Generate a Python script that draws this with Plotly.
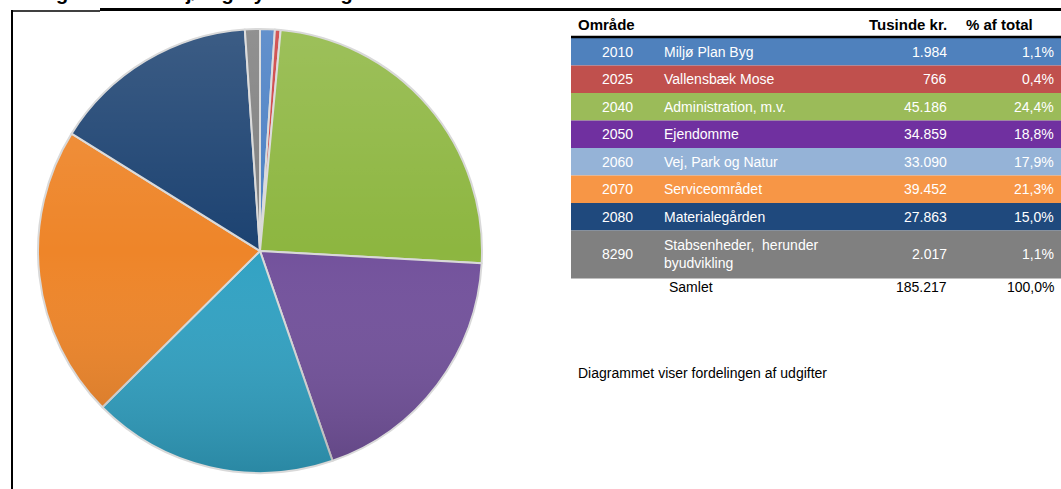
import base64
import plotly.graph_objects as go

W, H = 1061, 489

# data
codes = ["2010", "2025", "2040", "2050", "2060", "2070", "2080", "8290"]
names = ["Miljø Plan Byg", "Vallensbæk Mose", "Administration, m.v.", "Ejendomme",
         "Vej, Park og Natur", "Serviceområdet", "Materialegården",
         "Stabsenheder,  herunder<br>byudvikling"]
values = [1984, 766, 45186, 34859, 33090, 39452, 27863, 2017]
value_labels = ["1.984", "766", "45.186", "34.859", "33.090", "39.452", "27.863", "2.017"]
pct_labels = ["1,1%", "0,4%", "24,4%", "18,8%", "17,9%", "21,3%", "15,0%", "1,1%"]
total_label = "185.217"
total_pct = "100,0%"

pie_colors = ["#4a7fc4", "#cc3d3d", "#8db640", "#73529c", "#32a2c3",
              "#ee8529", "#1c4271", "#7f7f7f"]
row_colors = ["#4f81bd", "#c0504d", "#9bbb59", "#7030a0", "#95b3d7",
              "#f79646", "#1f497d", "#808080"]

FONT = "Arial, Liberation Sans, sans-serif"

# pie geometry (pixels)
CX, CY, R = 260, 251, 222


def px(x):
    return x / W


def py_(y):
    return 1 - y / H


fig = go.Figure()

fig.add_trace(go.Pie(
    values=values,
    labels=codes,
    sort=False,
    direction="clockwise",
    rotation=0,
    textinfo="none",
    marker=dict(colors=pie_colors, line=dict(color="#d9d9d9", width=2)),
    domain=dict(x=[px(CX - R), px(CX + R)], y=[py_(CY + R), py_(CY - R)]),
    showlegend=False,
))

# soft vertical shading over the pie (light top, darker bottom)
svg = ('<svg xmlns="http://www.w3.org/2000/svg" width="444" height="444">'
       '<defs><linearGradient id="g" x1="0" y1="0" x2="0" y2="1">'
       '<stop offset="0" stop-color="#ffffff" stop-opacity="0.14"/>'
       '<stop offset="0.5" stop-color="#ffffff" stop-opacity="0"/>'
       '<stop offset="1" stop-color="#000000" stop-opacity="0.16"/>'
       '</linearGradient></defs>'
       '<circle cx="222" cy="222" r="221" fill="url(#g)"/></svg>')
shade_src = "data:image/svg+xml;base64," + base64.b64encode(svg.encode()).decode()

shapes = []
annotations = []

# frame lines
shapes.append(dict(type="line", xref="paper", yref="paper", x0=px(12), x1=px(12),
                   y0=py_(10), y1=py_(H), line=dict(color="black", width=2)))
shapes.append(dict(type="line", xref="paper", yref="paper", x0=px(12), x1=px(100),
                   y0=py_(11), y1=py_(11), line=dict(color="black", width=1.5)))
shapes.append(dict(type="line", xref="paper", yref="paper", x0=px(100), x1=px(W),
                   y0=py_(9.5), y1=py_(9.5), line=dict(color="black", width=3)))

# cut-off title
annotations.append(dict(text="<b>Budget 2014 – Miljø og Byudvikling</b>", xref="paper", yref="paper",
                        x=px(15), y=py_(6), xanchor="left", yanchor="bottom", showarrow=False,
                        font=dict(family=FONT, size=20, color="black")))

# table header
hdr_y = 24
annotations.append(dict(text="<b>Område</b>", x=px(576), y=py_(hdr_y), xanchor="left"))
annotations.append(dict(text="<b>Tusinde kr.</b>", x=px(949), y=py_(hdr_y), xanchor="right"))
annotations.append(dict(text="<b>% af total</b>", x=px(964), y=py_(hdr_y), xanchor="left"))
shapes.append(dict(type="line", xref="paper", yref="paper", x0=px(571), x1=px(W),
                   y0=py_(37), y1=py_(37), line=dict(color="black", width=2.5)))

# rows
top = 38.0
row_h = 27.5
for i, code in enumerate(codes):
    h = row_h if i < len(codes) - 1 else 48
    y0, y1 = top, top + h
    shapes.append(dict(type="rect", xref="paper", yref="paper", x0=px(571), x1=px(W),
                       y0=py_(y1), y1=py_(y0), fillcolor=row_colors[i], line=dict(width=0),
                       layer="below"))
    yc = (y0 + y1) / 2
    for txt, x, anc in [(code, 617, "center"), (names[i], 662, "left"),
                        (value_labels[i], 949, "right"), (pct_labels[i], 1056, "right")]:
        annotations.append(dict(text=txt, x=px(x), y=py_(yc), xanchor=anc, align="left",
                                font=dict(family=FONT, size=14, color="white")))
    top = y1

# total row
tot_y = 287
annotations.append(dict(text="Samlet", x=px(667), y=py_(tot_y), xanchor="left"))
annotations.append(dict(text=total_label, x=px(949), y=py_(tot_y), xanchor="right"))
annotations.append(dict(text=total_pct, x=px(1056), y=py_(tot_y), xanchor="right"))

annotations.append(dict(text="Diagrammet viser fordelingen af udgifter", x=px(576), y=py_(373),
                        xanchor="left"))

for a in annotations:
    a.setdefault("xref", "paper")
    a.setdefault("yref", "paper")
    a.setdefault("yanchor", "middle")
    a.setdefault("showarrow", False)
    a.setdefault("font", dict(family=FONT, size=14, color="black"))

header_font = dict(family=FONT, size=15, color="black")
for a in annotations[1:4]:
    a["font"] = header_font

fig.update_layout(
    width=W, height=H,
    margin=dict(l=0, r=0, t=0, b=0),
    paper_bgcolor="white",
    plot_bgcolor="white",
    shapes=shapes,
    annotations=annotations,
    images=[dict(source=shade_src, xref="paper", yref="paper",
                 x=px(CX - R), y=py_(CY - R), sizex=px(2 * R), sizey=2 * R / H,
                 xanchor="left", yanchor="top", sizing="stretch", layer="above")],
    font=dict(family=FONT),
)

fig.write_html("out.html", config={"displayModeBar": False},
               post_script="document.body.style.margin='0';"
                           "document.body.style.overflow='hidden';")
